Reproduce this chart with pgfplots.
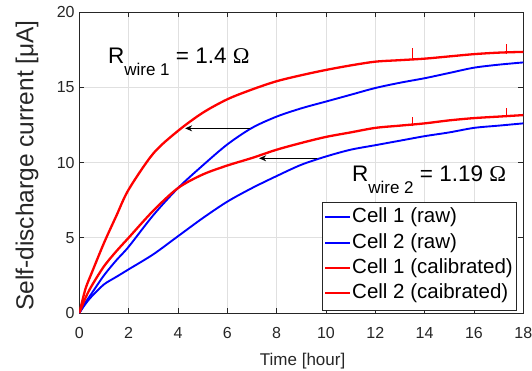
\documentclass[border=0pt]{standalone}
\usepackage{fontspec}
\setmainfont{Liberation Sans}
\newfontfamily\symfont{Liberation Serif}
\usepackage{pgfplots}
\pgfplotsset{compat=1.18}
\usetikzlibrary{arrows.meta}
\definecolor{axgray}{rgb}{0.15,0.15,0.15}
\definecolor{gridgray}{rgb}{0.88,0.88,0.88}
\begin{document}
\begin{tikzpicture}
\useasboundingbox (-79.3pt,-57pt) rectangle (452.7pt,313pt);
\begin{axis}[
  at={(0,0)}, anchor=south west,
  scale only axis, width=444pt, height=301pt,
  xmin=0, xmax=18, ymin=0, ymax=20,
  xtick={0,2,...,18}, ytick={0,5,...,20},
  tick pos=both, tick align=inside, major tick length=5pt,
  every tick/.style={axgray, line width=0.6pt},
  axis line style={axgray, line width=0.6pt},
  grid=major, major grid style={gridgray, line width=0.6pt},
  /pgf/number format/assume math mode=true,
  tick label style={font=\fontsize{16}{19}\selectfont, text=axgray},
  xticklabel style={anchor=base, yshift=-25pt},
  yticklabel style={anchor=east, inner sep=0pt, xshift=-4.5pt},
  xlabel={Time [hour]},
  ylabel={Self-discharge current [μA]},
  xlabel style={font=\fontsize{17}{20}\selectfont, text=axgray, at={(axis description cs:0.503,-0.1744)}, anchor=base},
  ylabel style={font=\fontsize{24.5}{28}\selectfont, text=axgray, at={(axis description cs:-0.1036,0.49)}, anchor=base},
]
% Cell 1 raw
\addplot[color=blue, line width=1.9pt, smooth, tension=0.5] coordinates {
(0,0) (0.25,0.6) (0.5,1.1) (1,1.9) (1.5,2.4) (2,2.9) (3,3.9) (4,5.1) (5,6.3) (6,7.4) (7,8.3) (8,9.1) (9,9.85) (10,10.4) (11,10.85) (12,11.15) (13,11.45) (14,11.75) (15,12.0) (16,12.3) (17,12.45) (18,12.6)};
% Cell 2 raw
\addplot[color=blue, line width=1.9pt, smooth, tension=0.5] coordinates {
(0,0) (0.25,0.7) (0.5,1.3) (1,2.5) (1.5,3.5) (2,4.4) (3,6.5) (4,8.3) (5,9.8) (6,11.2) (7,12.3) (8,13.05) (9,13.6) (10,14.05) (11,14.5) (12,14.95) (13,15.3) (14,15.6) (15,15.95) (16,16.3) (17,16.5) (18,16.65)};
% Cell 1 calibrated
\addplot[color=red, line width=2.3pt, smooth, tension=0.5] coordinates {
(0,0) (0.25,1.0) (0.5,1.8) (1,3.1) (1.5,4.1) (2,5.0) (3,6.8) (4,8.3) (5,9.2) (6,9.8) (7,10.3) (8,10.85) (9,11.3) (10,11.7) (11,12.0) (12,12.3) (13,12.45) (14,12.6) (15,12.8) (16,12.95) (17,13.05) (18,13.15)};
% Cell 2 calibrated
\addplot[color=red, line width=2.3pt, smooth, tension=0.5] coordinates {
(0,0) (0.25,1.6) (0.5,2.65) (1,4.65) (1.5,6.45) (2,8.2) (3,10.6) (4,12.1) (5,13.3) (6,14.2) (7,14.85) (8,15.4) (9,15.8) (10,16.15) (11,16.45) (12,16.7) (13,16.8) (14,16.9) (15,17.05) (16,17.2) (17,17.3) (18,17.35)};
% spikes
\addplot[color=red, line width=1pt] coordinates {(13.5,16.8) (13.5,17.6)};
\addplot[color=red, line width=1pt] coordinates {(17.3,17.2) (17.3,17.85)};
\addplot[color=red, line width=1pt] coordinates {(13.5,12.4) (13.5,13.0)};
\addplot[color=red, line width=1pt] coordinates {(17.3,13.0) (17.3,13.6)};
% arrows
\draw[black, line width=1.3pt, -{Stealth[length=7pt,width=6pt]}] (axis cs:6.92,12.27) -- (axis cs:4.29,12.27);
\draw[black, line width=1.3pt, -{Stealth[length=7pt,width=6pt]}] (axis cs:9.63,10.28) -- (axis cs:7.29,10.28);
% annotations
\node[anchor=base west, inner sep=0pt, font=\fontsize{22.5}{26}\selectfont] at (axis cs:1.16,16.6)
  {R\raisebox{-12.4pt}{\fontsize{17}{20}\selectfont wire 1} = 1.4 {\symfont Ω}};
\node[anchor=base west, inner sep=0pt, font=\fontsize{22.5}{26}\selectfont] at (axis cs:11.05,8.72)
  {R\raisebox{-11.5pt}{\fontsize{17}{20}\selectfont wire 2} = 1.19 {\symfont Ω}};
% legend
\draw[axgray, line width=0.6pt, fill=white] (axis description cs:0.5466,0.00997) rectangle (axis description cs:0.9836,0.3688);
\draw[blue, line width=1.1pt] (axis description cs:0.5534,0.319) -- (axis description cs:0.6097,0.319);
\draw[blue, line width=1.1pt] (axis description cs:0.5534,0.2326) -- (axis description cs:0.6097,0.2326);
\draw[red, line width=1.1pt] (axis description cs:0.5534,0.1495) -- (axis description cs:0.6097,0.1495);
\draw[red, line width=1.1pt] (axis description cs:0.5534,0.0664) -- (axis description cs:0.6097,0.0664);
\node[anchor=west, inner sep=0pt, font=\fontsize{20.5}{24}\selectfont] at (axis description cs:0.6142,0.319) {Cell 1 (raw)};
\node[anchor=west, inner sep=0pt, font=\fontsize{20.5}{24}\selectfont] at (axis description cs:0.6142,0.2326) {Cell 2 (raw)};
\node[anchor=west, inner sep=0pt, font=\fontsize{20.5}{24}\selectfont] at (axis description cs:0.6142,0.1495) {Cell 1 (calibrated)};
\node[anchor=west, inner sep=0pt, font=\fontsize{20.5}{24}\selectfont] at (axis description cs:0.6142,0.0664) {Cell 2 (caibrated)};
\end{axis}
\end{tikzpicture}
\end{document}
